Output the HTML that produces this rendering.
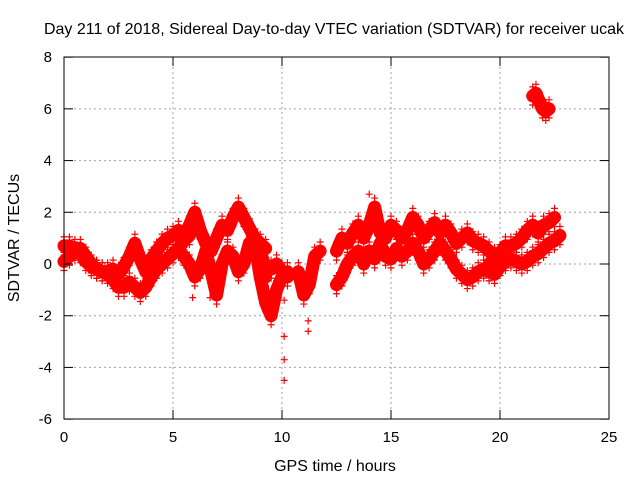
<!DOCTYPE html>
<html><head><meta charset="utf-8"><style>
body{margin:0;background:#fff;}
svg text{font-family:"Liberation Sans",sans-serif;font-size:15px;fill:#000;}
svg text.big{font-size:16px;}
</style></head><body>
<svg id="chart" width="640" height="480" xmlns="http://www.w3.org/2000/svg">
<rect width="640" height="480" fill="#fff"/>
<g id="grid"></g>
<g id="marks"></g>
<rect x="64" y="57" width="545" height="362" fill="none" stroke="#000" stroke-width="1"/>
<g id="ticks"></g>
<text class="big" x="334" y="34" text-anchor="middle">Day 211 of 2018, Sidereal Day-to-day VTEC variation (SDTVAR) for receiver ucak</text>
<text class="big" x="335" y="471" text-anchor="middle">GPS time / hours</text>
<text class="big" x="0" y="0" transform="translate(19,238) rotate(-90)" text-anchor="middle">SDTVAR / TECUs</text>
</svg>
<script>
const xTicks=[0,5,10,15,20,25];
const yTicks=[-6,-4,-2,0,2,4,6,8];
// tracks: start hour, step hours, values (TECU)
const track1Start=0, track1Step=0.25;
const track1=[0.1,0.3,0.5,0.4,0.1,-0.1,-0.2,-0.3,-0.4,-0.6,-0.9,-0.9,-0.7,-0.9,-1.1,-0.9,-0.5,-0.2,0.0,0.2,0.4,0.6,0.9,1.1];
const track2Start=0, track2Step=0.25;
const track2=[0.7,0.7,0.6,0.6,0.3,0.0,-0.2,-0.3,-0.3,-0.2,-0.4,-0.1,0.3,0.8,0.2,-0.3,0.2,0.5,0.8,1.0,1.1,1.3];
const track3Start=5.5, track3Step=0.25;
const track3=[1.0,1.5,2.0,1.3,0.8,0.5,1.0,1.5,1.3,1.8,2.2,1.8,1.4,1.0,0.8,0.6];
const track4Start=5.5, track4Step=0.25;
const track4=[0.3,0.0,-0.5,-0.2,0.5,-0.3,-1.2,0.0,0.5,0.3,-0.3,0.0,0.8,0.5,0.0,-0.5];
const track5Start=8.75, track5Step=0.25;
const track5=[0.8,-0.5,-1.5,-2.0,-1.0,-0.5,-0.3];
const track6Start=8.75, track6Step=0.25;
const track6=[1.0,0.5,-0.2,-0.2,0.0,-0.3,-0.5];
const track7Start=10.75, track7Step=0.25;
const track7=[-0.3,-1.2,-0.8,0.3,0.5];
const track8Start=12.5, track8Step=0.25;
const track8=[0.5,1.0,0.8,1.2,1.5,1.0,1.5,2.2,1.2,1.0,1.5,1.3,1.0,1.3,1.8,1.5,1.0,1.3,1.6,1.2,1.5,1.2,0.8,1.0,1.2,0.9,0.8,0.7,0.5,0.3];
const track9Start=12.5, track9Step=0.25;
const track9=[-0.8,-0.5,0.0,0.3,0.5,0.0,0.5,0.2,0.8,0.3,0.2,0.6,0.3,0.5,0.8,0.5,0.0,0.2,0.5,0.8,0.5,0.2,-0.2,-0.4,-0.6,-0.5,-0.3,-0.2,-0.3,-0.1,0.0];
const track10Start=19.5, track10Step=0.25;
const track10=[-0.3,-0.4,-0.1,0.1,0.2,0.1,0.0,0.1,0.3,0.4,0.6,0.8,0.9,1.1];
const track11Start=19.5, track11Step=0.25;
const track11=[0.0,0.2,0.4,0.7,0.7,0.8,1.0,1.3,1.5,1.2,1.5,1.6,1.8];
const track12Start=21.5, track12Step=0.15;
const track12=[6.5,6.6,6.3,6.0,5.9,6.0];
const outlierT=[10.1,10.1,10.1,10.1,11.2,11.2,14.0,5.9,6.7];
const outlierV=[-1.4,-2.8,-3.7,-4.5,-2.2,-2.6,2.7,-1.3,-1.3];

const X=t=>64+t*545/25;
const Y=v=>264-v*362/14;
const NS="http://www.w3.org/2000/svg";
const grid=document.getElementById('grid'),ticks=document.getElementById('ticks'),marks=document.getElementById('marks');
function mk(tag,attrs,parent){const e=document.createElementNS(NS,tag);for(const k in attrs)e.setAttribute(k,attrs[k]);parent.appendChild(e);return e;}
xTicks.forEach(t=>{
  const x=X(t);
  if(t>0&&t<25){const g=mk('line',{x1:x,y1:57,x2:x,y2:419,stroke:'#a0a0a0','stroke-dasharray':'2,3'},grid);
  
  }
  mk('line',{x1:x,y1:419,x2:x,y2:410,stroke:'#000'},ticks);
  mk('line',{x1:x,y1:57,x2:x,y2:66,stroke:'#000'},ticks);
  const l=mk('text',{x:x,y:442,'text-anchor':'middle'},ticks);l.textContent=t;
  
  
});
yTicks.forEach(v=>{
  const y=Y(v);
  if(v>-6&&v<8){const g=mk('line',{x1:64,y1:y,x2:609,y2:y,stroke:'#a0a0a0','stroke-dasharray':'2,3'},grid);
  
  }
  mk('line',{x1:64,y1:y,x2:73,y2:y,stroke:'#000'},ticks);
  mk('line',{x1:609,y1:y,x2:600,y2:y,stroke:'#000'},ticks);
  const l=mk('text',{x:52,y:y+5,'text-anchor':'end'},ticks);l.textContent=v;
  
  
});
function plus(t,v){
  const x=X(t),y=Y(v);
  const p=mk('path',{d:`M${x-3.5},${y}h7M${x},${y-3.5}v7`,stroke:'#f00','stroke-width':1.2},marks);
  
  
}
const tracks=[[track1Start,track1Step,track1],[track2Start,track2Step,track2],[track3Start,track3Step,track3],[track4Start,track4Step,track4],[track5Start,track5Step,track5],[track6Start,track6Step,track6],[track7Start,track7Step,track7],[track8Start,track8Step,track8],[track9Start,track9Step,track9],[track10Start,track10Step,track10],[track11Start,track11Step,track11],[track12Start,track12Step,track12]];
tracks.forEach(([s,st,vals])=>{
  const pts=vals.map((v,i)=>X(s+i*st)+','+Y(v)).join(' ');
  const pl=mk('polyline',{points:pts,fill:'none',stroke:'#f00','stroke-width':13,'stroke-linejoin':'round','stroke-linecap':'round'},marks);
  
  
  vals.forEach((v,i)=>{plus(s+i*st,v+0.35);plus(s+i*st,v-0.35);});
});
outlierT.forEach((t,i)=>plus(t,outlierV[i]));
</script>
</body></html>
